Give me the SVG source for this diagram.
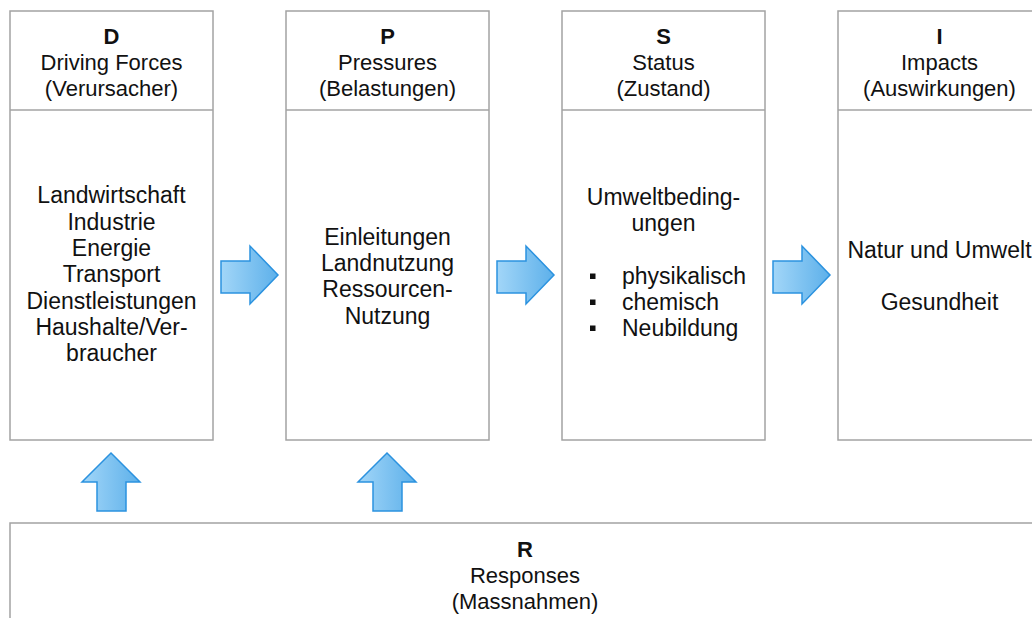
<svg xmlns="http://www.w3.org/2000/svg" width="1032" height="618" viewBox="0 0 1032 618">
  <defs>
    <linearGradient id="blueFill" x1="0" y1="0" x2="1" y2="0">
      <stop offset="0" stop-color="#a2d6f8"/>
      <stop offset="1" stop-color="#5db0ea"/>
    </linearGradient>
    <style>
      .box { fill: #ffffff; stroke: #a3a3a3; stroke-width: 1.5; }
      .sep { stroke: #a3a3a3; stroke-width: 1.5; }
      .arrow { fill: url(#blueFill); stroke: #2b92df; stroke-width: 1.5; stroke-linejoin: miter; }
      text { font-family: "Liberation Sans", Arial, Helvetica, sans-serif; fill: #111111; }
      .head { font-size: 22px; text-anchor: middle; }
      .key { font-size: 22px; font-weight: bold; text-anchor: middle; }
      .body { font-size: 23px; text-anchor: middle; }
      .item { font-size: 23px; }
      .bullet { fill: #111111; }
    </style>
  </defs>

  <rect width="1032" height="618" fill="#ffffff"/>

  <!-- D: Driving Forces -->
  <g id="node-d">
    <rect class="box" x="10" y="11" width="203" height="429"/>
    <line class="sep" x1="10" y1="110" x2="213" y2="110"/>
    <text class="key" x="111.5" y="44">D</text>
    <text class="head" x="111.5" y="70">Driving Forces</text>
    <text class="head" x="111.5" y="96">(Verursacher)</text>
    <text class="body" x="111.5" y="203">Landwirtschaft</text>
    <text class="body" x="111.5" y="229.5">Industrie</text>
    <text class="body" x="111.5" y="256">Energie</text>
    <text class="body" x="111.5" y="282">Transport</text>
    <text class="body" x="111.5" y="308.5">Dienstleistungen</text>
    <text class="body" x="111.5" y="335">Haushalte/Ver-</text>
    <text class="body" x="111.5" y="361">braucher</text>
  </g>

  <!-- P: Pressures -->
  <g id="node-p">
    <rect class="box" x="286" y="11" width="203" height="429"/>
    <line class="sep" x1="286" y1="110" x2="489" y2="110"/>
    <text class="key" x="387.5" y="44">P</text>
    <text class="head" x="387.5" y="70">Pressures</text>
    <text class="head" x="387.5" y="96">(Belastungen)</text>
    <text class="body" x="387.5" y="244.5">Einleitungen</text>
    <text class="body" x="387.5" y="271">Landnutzung</text>
    <text class="body" x="387.5" y="297">Ressourcen-</text>
    <text class="body" x="387.5" y="323.5">Nutzung</text>
  </g>

  <!-- S: Status -->
  <g id="node-s">
    <rect class="box" x="562" y="11" width="203" height="429"/>
    <line class="sep" x1="562" y1="110" x2="765" y2="110"/>
    <text class="key" x="663.5" y="44">S</text>
    <text class="head" x="663.5" y="70">Status</text>
    <text class="head" x="663.5" y="96">(Zustand)</text>
    <text class="body" x="663.5" y="204.5">Umweltbeding-</text>
    <text class="body" x="663.5" y="230.5">ungen</text>
    <rect class="bullet" x="590" y="273.5" width="5.5" height="5.5"/>
    <rect class="bullet" x="590" y="299.5" width="5.5" height="5.5"/>
    <rect class="bullet" x="590" y="325.5" width="5.5" height="5.5"/>
    <text class="item" x="622" y="284">physikalisch</text>
    <text class="item" x="622" y="310">chemisch</text>
    <text class="item" x="622" y="336">Neubildung</text>
  </g>

  <!-- I: Impacts -->
  <g id="node-i">
    <rect class="box" x="838" y="11" width="203" height="429"/>
    <line class="sep" x1="838" y1="110" x2="1041" y2="110"/>
    <text class="key" x="939.5" y="44">I</text>
    <text class="head" x="939.5" y="70">Impacts</text>
    <text class="head" x="939.5" y="96">(Auswirkungen)</text>
    <text class="body" x="939.5" y="258">Natur und Umwelt</text>
    <text class="body" x="939.5" y="310">Gesundheit</text>
  </g>

  <!-- R: Responses -->
  <g id="node-r">
    <rect class="box" x="10" y="523" width="1030" height="110"/>
    <text class="key" x="525" y="557">R</text>
    <text class="head" x="525" y="583">Responses</text>
    <text class="head" x="525" y="609">(Massnahmen)</text>
  </g>

  <!-- block arrows -->
  <g id="connectors">
    <path class="arrow" d="M221,261 H250 V246 L278,275 L250,304 V293 H221 Z"/>
    <path class="arrow" d="M497,261 H526 V246 L554,275 L526,304 V293 H497 Z"/>
    <path class="arrow" d="M773,261 H802 V246 L830,275 L802,304 V293 H773 Z"/>
    <path class="arrow" d="M97,511 V482 H82 L111,453 L140,482 H126 V511 Z"/>
    <path class="arrow" d="M373,511 V482 H358 L387,453 L416,482 H402 V511 Z"/>
  </g>
</svg>
